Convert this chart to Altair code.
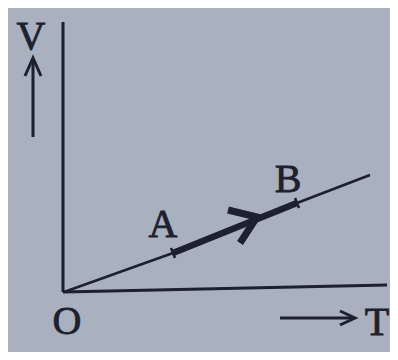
import altair as alt
import pandas as pd

# Segments of the drawing (T, V coordinates in graph units)
seg_names = ["y_axis", "x_axis", "line", "tickA", "tickB", "AB", "head", "V_shaft", "V_head", "T_shaft", "T_head"]
seg_T = [
    [-0.1, -0.1],
    [-0.1, 32.3],
    [0.0, 10.9, 23.3, 30.6],
    [10.7, 11.1],
    [23.1, 23.5],
    [10.9, 23.3],
    [16.4, 19.3, 17.6],
    [-3.1, -3.1],
    [-3.9, -3.1, -2.3],
    [21.6, 29.0],
    [27.6, 29.1, 27.6],
]
seg_V = [
    [0.0, 27.0],
    [0.0, 0.7],
    [0.0, 3.9, 8.9, 11.7],
    [4.4, 3.4],
    [9.4, 8.4],
    [3.9, 8.9],
    [8.2, 7.5, 4.9],
    [15.5, 23.2],
    [21.6, 23.4, 21.6],
    [-2.6, -2.6],
    [-1.9, -2.6, -3.3],
]
seg_width = [3, 3, 2.5, 2.5, 2.5, 6.5, 7, 3, 3, 3, 3]

labels = ["V", "A", "B", "O", "T"]
label_T = [-3.3, 9.9, 22.4, 0.3, 31.3]
label_V = [25.5, 6.7, 11.2, -3.0, -3.1]

rows = []
for name, ts, vs, w in zip(seg_names, seg_T, seg_V, seg_width):
    for i, (t, v) in enumerate(zip(ts, vs)):
        rows.append({"seg": name, "i": i, "T": t, "V": v, "w": w})
lines_df = pd.DataFrame(rows)
text_df = pd.DataFrame({"label": labels, "T": label_T, "V": label_V})

ink = "#1c2030"
xs = alt.Scale(domain=[-5.6, 32.6], nice=False, zero=False)
ys = alt.Scale(domain=[-6.0, 28.4], nice=False, zero=False)

lines = alt.Chart(lines_df).mark_line(color=ink, strokeCap="butt", strokeJoin="miter").encode(
    x=alt.X("T:Q", scale=xs, axis=None),
    y=alt.Y("V:Q", scale=ys, axis=None),
    detail="seg:N",
    order="i:Q",
    strokeWidth=alt.StrokeWidth("w:Q", scale=None),
)

text = alt.Chart(text_df).mark_text(
    color=ink, stroke=ink, strokeWidth=0.8, font="Liberation Serif", fontSize=40,
    align="center", baseline="middle"
).encode(
    x=alt.X("T:Q", scale=xs, axis=None),
    y=alt.Y("V:Q", scale=ys, axis=None),
    text="label:N",
)

chart = (lines + text).properties(
    width=382, height=344, background="#a9b0be", padding=0,
    autosize=alt.AutoSizeParams(type="none"),
).configure_view(stroke=None)

chart.save("out.html", embed_options={"renderer": "svg", "actions": False})
